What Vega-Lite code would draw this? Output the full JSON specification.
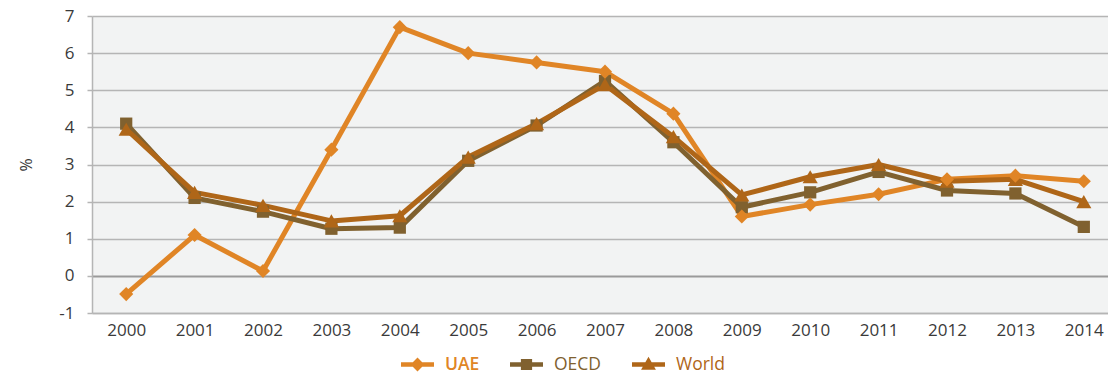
{
  "$schema": "https://vega.github.io/schema/vega-lite/v6.json",
  "width": 1026,
  "height": 297,
  "autosize": {"type": "none"},
  "padding": {"left": 92, "top": 16, "right": 0, "bottom": 62},
  "background": "#ffffff",
  "config": {
    "view": {"fill": "#F2F3F3", "stroke": null},
    "font": "Open Sans",
    "axis": {"labelFont": "Open Sans", "titleFont": "Open Sans", "labelColor": "#3a3a3a", "titleColor": "#3a3a3a"}
  },
  "data": {
    "values": [
      {"year": "2000", "series": "UAE", "value": -0.49},
      {"year": "2001", "series": "UAE", "value": 1.1},
      {"year": "2002", "series": "UAE", "value": 0.13},
      {"year": "2003", "series": "UAE", "value": 3.4},
      {"year": "2004", "series": "UAE", "value": 6.7},
      {"year": "2005", "series": "UAE", "value": 6.0},
      {"year": "2006", "series": "UAE", "value": 5.75},
      {"year": "2007", "series": "UAE", "value": 5.5},
      {"year": "2008", "series": "UAE", "value": 4.37},
      {"year": "2009", "series": "UAE", "value": 1.6},
      {"year": "2010", "series": "UAE", "value": 1.92},
      {"year": "2011", "series": "UAE", "value": 2.2},
      {"year": "2012", "series": "UAE", "value": 2.6},
      {"year": "2013", "series": "UAE", "value": 2.7},
      {"year": "2014", "series": "UAE", "value": 2.55},
      {"year": "2000", "series": "OECD", "value": 4.1},
      {"year": "2001", "series": "OECD", "value": 2.1},
      {"year": "2002", "series": "OECD", "value": 1.73},
      {"year": "2003", "series": "OECD", "value": 1.27},
      {"year": "2004", "series": "OECD", "value": 1.3},
      {"year": "2005", "series": "OECD", "value": 3.1},
      {"year": "2006", "series": "OECD", "value": 4.05},
      {"year": "2007", "series": "OECD", "value": 5.25},
      {"year": "2008", "series": "OECD", "value": 3.6},
      {"year": "2009", "series": "OECD", "value": 1.85},
      {"year": "2010", "series": "OECD", "value": 2.25},
      {"year": "2011", "series": "OECD", "value": 2.8},
      {"year": "2012", "series": "OECD", "value": 2.3},
      {"year": "2013", "series": "OECD", "value": 2.22},
      {"year": "2014", "series": "OECD", "value": 1.32},
      {"year": "2000", "series": "World", "value": 3.95},
      {"year": "2001", "series": "World", "value": 2.25},
      {"year": "2002", "series": "World", "value": 1.9},
      {"year": "2003", "series": "World", "value": 1.48},
      {"year": "2004", "series": "World", "value": 1.62},
      {"year": "2005", "series": "World", "value": 3.2},
      {"year": "2006", "series": "World", "value": 4.1},
      {"year": "2007", "series": "World", "value": 5.15},
      {"year": "2008", "series": "World", "value": 3.75},
      {"year": "2009", "series": "World", "value": 2.18},
      {"year": "2010", "series": "World", "value": 2.67},
      {"year": "2011", "series": "World", "value": 3.0},
      {"year": "2012", "series": "World", "value": 2.55},
      {"year": "2013", "series": "World", "value": 2.6},
      {"year": "2014", "series": "World", "value": 2.0}
    ]
  },
  "encoding": {
    "x": {
      "field": "year", "type": "ordinal",
      "scale": {"type": "point", "padding": 0.5},
      "axis": {
        "title": null, "labelAngle": 0, "ticks": false, "grid": false,
        "domainColor": "#B5B5B5", "domainWidth": 1.5,
        "labelFontSize": 17, "labelPadding": 9
      }
    },
    "y": {
      "field": "value", "type": "quantitative",
      "scale": {"domain": [-1, 7], "nice": false, "zero": false},
      "axis": {
        "title": "%", "titleFontSize": 16, "titleFontWeight": "normal", "titlePadding": 24,
        "values": [-1, 0, 1, 2, 3, 4, 5, 6, 7], "labelExpr": "datum.value",
        "labelFontSize": 17, "labelPadding": 13, "tickSize": 5,
        "tickColor": "#B5B5B5", "tickWidth": 1.5,
        "domainColor": "#B5B5B5", "domainWidth": 1.5,
        "grid": true,
        "gridColor": {"condition": {"test": "datum.value === 0", "value": "#9A9A9A"}, "value": "#B5B5B5"},
        "gridWidth": {"condition": {"test": "datum.value === 0", "value": 2.2}, "value": 1.5}
      }
    },
    "color": {
      "field": "series", "type": "nominal",
      "scale": {"domain": ["UAE", "OECD", "World"], "range": ["#E08526", "#80612F", "#AF6618"]},
      "legend": {
        "title": null, "orient": "none", "direction": "horizontal",
        "legendX": 309, "legendY": 332,
        "symbolSize": 1089, "symbolStrokeWidth": 0,
        "labelFontSize": 17.5, "labelFont": "Open Sans", "labelOffset": 11,
        "columnPadding": 30,
        "encode": {
          "symbols": {"update": {
            "shape": {"signal": "datum.value === 'UAE' ? 'M-1,-0.13L1,-0.13L1,0.13L-1,0.13Z M0,-0.42L0.42,0L0,0.42L-0.42,0Z' : datum.value === 'OECD' ? 'M-1,-0.13L1,-0.13L1,0.13L-1,0.13Z M-0.34,-0.34L0.34,-0.34L0.34,0.34L-0.34,0.34Z' : 'M-1,-0.13L1,-0.13L1,0.13L-1,0.13Z M0,-0.47L0.45,0.32L-0.45,0.32Z'"},
            "size": {"value": 1089},
            "fill": {"signal": "scale('color', datum.value)"},
            "stroke": {"value": "transparent"},
            "opacity": {"value": 1}
          }},
          "labels": {"update": {
            "fill": {"signal": "scale('color', datum.value)"},
            "fontWeight": {"signal": "datum.value === 'UAE' ? 600 : 'normal'"}
          }}
        }
      }
    }
  },
  "layer": [
    {
      "mark": {"type": "line", "strokeWidth": 5, "strokeJoin": "round"}
    },
    {
      "transform": [{"filter": "datum.series === 'OECD'"}],
      "mark": {"type": "point", "filled": true, "opacity": 1, "shape": "square", "size": 150}
    },
    {
      "transform": [{"filter": "datum.series === 'World'"}],
      "mark": {"type": "point", "filled": true, "opacity": 1, "shape": "triangle-up", "size": 230}
    },
    {
      "transform": [{"filter": "datum.series === 'UAE'"}],
      "mark": {"type": "point", "filled": true, "opacity": 1, "shape": "diamond", "size": 200}
    }
  ]
}
